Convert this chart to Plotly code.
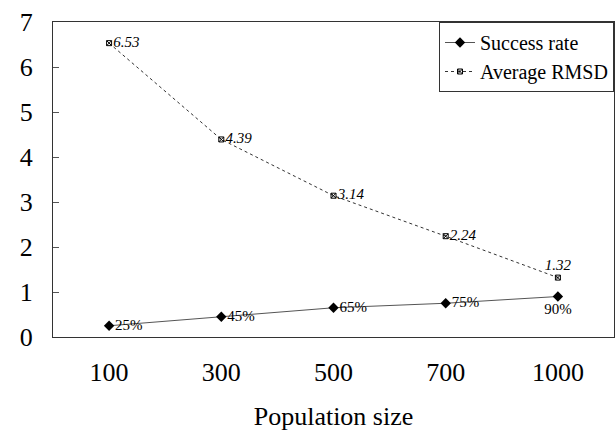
import plotly.graph_objects as go

# Population sizes tested (categorical x axis)
population = ["100", "300", "500", "700", "1000"]

# Success rate as a fraction, with its percentage labels
success_rate = [0.25, 0.45, 0.65, 0.75, 0.90]
success_labels = ["25%", "45%", "65%", "75%", "90%"]

# Average RMSD per population size
avg_rmsd = [6.53, 4.39, 3.14, 2.24, 1.32]
rmsd_labels = [f"{v:.2f}" for v in avg_rmsd]

y_ticks = [0, 1, 2, 3, 4, 5, 6, 7]

serif = "'Liberation Serif', 'Times New Roman', Times, serif"

fig = go.Figure()

fig.add_trace(go.Scatter(
    x=population, y=success_rate, name="Success rate",
    mode="lines+markers+text",
    line=dict(color="#555555", width=1),
    marker=dict(symbol="diamond", size=8, color="black"),
    text=success_labels,
    textposition=["middle right", "middle right", "middle right", "middle right", "bottom center"],
    textfont=dict(family=serif, size=15, color="black"),
    cliponaxis=False,
))

fig.add_trace(go.Scatter(
    x=population, y=avg_rmsd, name="Average RMSD",
    mode="lines+markers+text",
    line=dict(color="#333333", width=1, dash="dot"),
    marker=dict(symbol="square-x-open", size=5, color="black", line=dict(width=1)),
    text=[f"<i>{t}</i>" for t in rmsd_labels],
    textposition=["middle right", "middle right", "middle right", "middle right", "top center"],
    textfont=dict(family=serif, size=15, color="black"),
    cliponaxis=False,
))

fig.update_layout(
    width=616, height=431,
    margin=dict(l=53, r=2, t=22, b=94),
    paper_bgcolor="white", plot_bgcolor="white",
    font=dict(family=serif, color="black"),
    showlegend=True,
    legend=dict(
        x=1, y=1, xanchor="right", yanchor="top",
        bgcolor="white", bordercolor="#333333", borderwidth=1,
        font=dict(family=serif, size=20, color="black"),
        itemwidth=30, tracegroupgap=0,
    ),
)

fig.update_xaxes(
    type="category", range=[-0.5, 4.5],
    showline=True, linecolor="#333333", linewidth=1, mirror=True,
    showgrid=False, ticks="",
    tickfont=dict(family=serif, size=26, color="black"),
    ticklabelstandoff=12,
    title=dict(text="Population size", font=dict(family=serif, size=26, color="black"), standoff=20),
)

fig.update_yaxes(
    range=[0, 7], tickvals=y_ticks,
    showline=True, linecolor="#333333", linewidth=1, mirror=True,
    showgrid=False, zeroline=False,
    ticks="inside", ticklen=6, tickcolor="#555555",
    tickfont=dict(family=serif, size=26, color="black"),
    ticklabelstandoff=14,
)

fig.write_html("out.html")
